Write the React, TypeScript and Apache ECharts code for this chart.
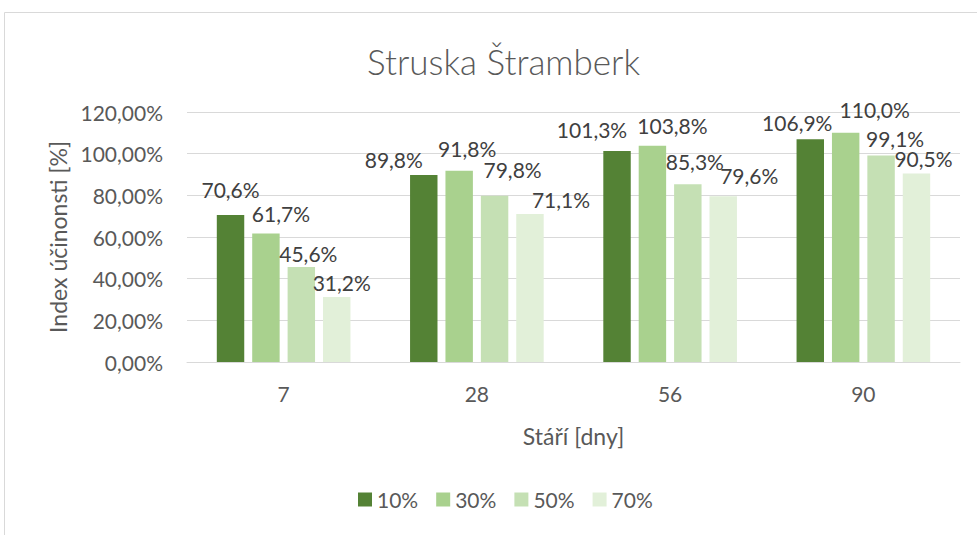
import React, { useEffect, useRef } from "react";
import * as echarts from "echarts";

const categories = ["7", "28", "56", "90"];
const seriesNames = ["10%", "30%", "50%", "70%"];
const s10 = [70.6, 89.8, 101.3, 106.9];
const s30 = [61.7, 91.8, 103.8, 110.0];
const s50 = [45.6, 79.8, 85.3, 99.1];
const s70 = [31.2, 71.1, 79.6, 90.5];
const colors = ["#548235", "#A9D18E", "#C5E0B4", "#E2F0D9"];

// label placement nudges (as in the reference), [dx, dy] per series per category
const labelOffsets = [
  [[0, -11], [-30, -1], [-25, -7], [-13, -2]],
  [[15, -5], [8, -8], [20, -6], [29, -9]],
  [[7, 1], [18, -12], [7, -8], [14, -3]],
  [[5, 0], [31, 0], [26, -6], [7, 0]],
];

const FONT = "Lato";

export default function App() {
  const ref = useRef<HTMLDivElement>(null);
  useEffect(() => {
    document.body.style.margin = "0";
    const chart = echarts.init(ref.current!, null, { renderer: "svg" });
    const all = [s10, s30, s50, s70];
    const fmt = (v: number) => v.toFixed(1).replace(".", ",") + "%";
    chart.setOption({
      animation: false,
      backgroundColor: "#ffffff",
      textStyle: { fontFamily: FONT },
      title: {
        text: "Struska Štramberk",
        left: 362,
        top: 38,
        textStyle: { fontFamily: FONT, fontWeight: 300, fontSize: 35, color: "#595959" },
      },
      graphic: [
        {
          type: "rect",
          shape: { x: 4.5, y: 12.5, width: 1100, height: 700 },
          style: { fill: "none", stroke: "#d9d9d9", lineWidth: 1 },
          silent: true,
        },
      ],
      legend: {
        bottom: 20,
        left: 353,
        itemWidth: 14,
        itemHeight: 14,
        itemGap: 18,
        icon: "rect",
        textStyle: { fontFamily: FONT, fontSize: 21, color: "#595959" },
        data: seriesNames,
      },
      grid: { left: 187, right: 17, top: 112, bottom: 173 },
      xAxis: {
        type: "category",
        data: categories,
        name: "Stáří [dny]",
        nameLocation: "middle",
        nameGap: 62,
        nameTextStyle: { fontFamily: FONT, fontSize: 23, color: "#595959" },
        axisLine: { lineStyle: { color: "#d9d9d9", width: 1 } },
        axisTick: { show: false },
        axisLabel: { fontFamily: FONT, fontSize: 21, color: "#595959", margin: 21 },
      },
      yAxis: {
        type: "value",
        min: 0,
        max: 120,
        interval: 20,
        name: "Index účinonsti [%]",
        nameLocation: "middle",
        nameGap: 118,
        nameTextStyle: { fontFamily: FONT, fontSize: 23, color: "#595959" },
        axisLine: { show: false },
        axisTick: { show: false },
        splitLine: { lineStyle: { color: "#d9d9d9", width: 1 } },
        axisLabel: {
          fontFamily: FONT,
          fontSize: 21,
          color: "#595959",
          margin: 24,
          formatter: (v: number) => v.toFixed(2).replace(".", ",") + "%",
        },
      },
      series: all.map((d, i) => ({
        name: seriesNames[i],
        type: "bar",
        barWidth: "14.2%",
        barGap: "29%",
        itemStyle: { color: colors[i] },
        data: d.map((v, j) => ({
          value: v,
          label: { offset: labelOffsets[i][j] },
        })),
        label: {
          show: true,
          position: "top",
          distance: 4,
          fontFamily: FONT,
          fontSize: 21,
          color: "#404040",
          formatter: (p: any) => fmt(p.value),
        },
      })),
    });
    return () => chart.dispose();
  }, []);
  return <div ref={ref} style={{ width: 977, height: 535 }} />;
}
